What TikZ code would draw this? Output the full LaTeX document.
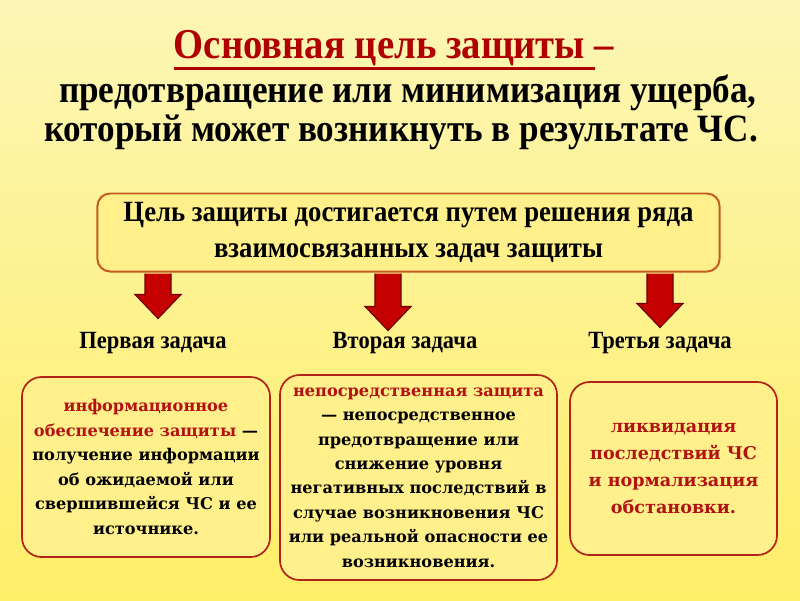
\documentclass[tikz,border=0pt]{standalone}
\usepackage{fontspec}
\setmainfont{Liberation Serif}
\newfontfamily\boxfont{DejaVu Serif}
\usepackage{graphicx}
\usetikzlibrary{positioning,calc}
\definecolor{bgtop}{RGB}{252,246,182}
\definecolor{bgbot}{RGB}{255,238,104}
\definecolor{boxfill}{RGB}{255,240,140}
\definecolor{goalline}{RGB}{196,92,32}
\definecolor{taskline}{RGB}{178,34,24}
\definecolor{titlered}{RGB}{176,0,0}
\definecolor{taskred}{RGB}{178,18,18}
\definecolor{arrowfill}{RGB}{196,0,0}
\definecolor{arrowline}{RGB}{110,0,0}
\newcommand{\tall}[1]{\scalebox{1}[1.1]{#1}}
\newcommand{\redtext}[1]{\textcolor{taskred}{#1}}
\newcommand{\thickul}[1]{\vtop{\hbox{#1}\kern1.2pt\hrule height 1.6pt}}
\tikzset{
  title/.style={font=\bfseries\fontsize{25}{30}\selectfont, inner sep=0pt},
  goalbox/.style={draw=goalline, line width=1.4pt, rounded corners=9pt, fill=boxfill, align=center,
    minimum width=15.55cm, minimum height=1.95cm, font=\bfseries\fontsize{19}{25}\selectfont},
  taskbox/.style={draw=taskline, line width=1.2pt, rounded corners=14pt, fill=boxfill, align=center,
    inner sep=2pt, font=\boxfont\bfseries\fontsize{11.5}{17.4}\selectfont},
  tasklbl/.style={font=\bfseries\fontsize{16}{18}\selectfont, inner sep=0pt},
  blockarr/.style={draw=arrowline, fill=arrowfill, line width=0.8pt, line join=miter}}

\begin{document}
\begin{tikzpicture}[x=0.025cm, y=-0.025cm]
  \useasboundingbox (0,0) rectangle (800,600);
  \shade[top color=bgtop, bottom color=bgbot] (0,0) rectangle (800,600);
  % title
  \node[title, text=titlered, font=\bfseries\fontsize{27.5}{30}\selectfont] (head) at (394,50)
    {\tall{\thickul{Основная цель защиты }–}};
  \node[title] (sub1) at (408,93) {\tall{предотвращение или минимизация ущерба,}};
  \node[title] (sub2) at (401,132) {\tall{который может возникнуть в результате ЧС.}};
  % goal
  \node[goalbox] (goal) at (408.5,232.5) {\tall{Цель защиты достигается путем решения ряда}\\
    \tall{взаимосвязанных задач защиты}};
  % three tasks
  \node[tasklbl] (t1) at (153,343) {\tall{Первая задача}};
  \node[tasklbl] (t2) at (405,343) {\tall{Вторая задача}};
  \node[tasklbl] (t3) at (660,343) {\tall{Третья задача}};
  \foreach \t/\dx/\len in {t1/5/46, t2/-17/58, t3/0/55}
    \draw[blockarr] ($(goal.south -| \t)+(\dx-13,1)$) -- ++(0,{\len-25}) -- ++(-10,0) -- ++(23,24)
      -- ++(23,-24) -- ++(-10,0) -- ++(0,{25-\len});
  \node[taskbox, minimum width=6.2cm, minimum height=4.5cm] (task1) at (146,467)
    {\redtext{информационное}\\\redtext{обеспечение защиты} —\\получение информации\\
     об ожидаемой или\\свершившейся ЧС и ее\\источнике.};
  \node[taskbox, minimum width=6.925cm, minimum height=5.125cm] (task2) at (418.5,477.5)
    {\redtext{непосредственная защита}\\— непосредственное\\предотвращение или\\снижение уровня\\
     негативных последствий в\\случае возникновения ЧС\\или реальной опасности ее\\возникновения.};
  \node[taskbox, minimum width=5.175cm, minimum height=4.325cm, text=taskred,
    font=\boxfont\bfseries\fontsize{12.5}{19.2}\selectfont] (task3) at (673.5,468.5)
    {ликвидация\\последствий ЧС\\и нормализация\\обстановки.};
\end{tikzpicture}
\end{document}
